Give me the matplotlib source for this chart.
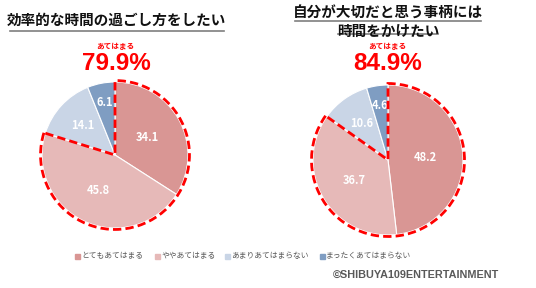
import matplotlib
matplotlib.use("Agg")
import numpy as np
import matplotlib.pyplot as plt
from matplotlib.patches import Wedge, Rectangle
from matplotlib.lines import Line2D

plt.rcParams['font.family'] = ['Noto Sans CJK JP', 'DejaVu Sans']

categories = ["とてもあてはまる", "ややあてはまる", "あまりあてはまらない", "まったくあてはまらない"]
left_values = [34.1, 45.8, 14.1, 6.1]
right_values = [48.2, 36.7, 10.6, 4.6]
left_total = "79.9%"
right_total = "84.9%"
left_title = "効率的な時間の過ごし方をしたい"
right_title = ["自分が大切だと思う事柄には", "時間をかけたい"]
colors = ["#D99694", "#E6B9B8", "#C9D5E6", "#7F9DC2"]
label_dist = [0.5, 0.53, 0.6, 0.73]

W, H = 536, 288
fig = plt.figure(figsize=(W / 100, H / 100), dpi=100)

def px(x, y):
    return x / W, 1 - y / H

def draw_pie(cx, cy, r, values):
    ax = fig.add_axes([(cx - r) / W, 1 - (cy + r) / H, 2 * r / W, 2 * r / H])
    wedges, _ = ax.pie(values, colors=colors, startangle=90, counterclock=False,
                       wedgeprops=dict(edgecolor="white", linewidth=0.8))
    for w, v, d in zip(wedges, values, label_dist):
        ang = np.deg2rad((w.theta1 + w.theta2) / 2)
        ax.text(d * np.cos(ang), d * np.sin(ang), f"{v:.1f}", ha="center", va="center",
                color="white", fontsize=8, fontweight="bold")
    total = sum(values)
    frac = (values[0] + values[1]) / total
    outline = Wedge((0, 0), 1.02, 90 - 360 * frac, 90, fill=False, edgecolor="#FF0000",
                    linestyle=(0, (3, 1.5)), linewidth=2, clip_on=False, zorder=5)
    ax.add_patch(outline)
    ax.set_xlim(-1, 1)
    ax.set_ylim(-1, 1)
    ax.set_aspect("equal")
    ax.axis("off")
    return ax

draw_pie(115, 155, 73, left_values)
draw_pie(388, 160, 75, right_values)

def title_line(text, x, y, x0, x1, uy):
    fig.text(*px(x, y), text, ha="center", va="center", fontsize=10.5, fontweight="bold", color="#111111")
    fig.add_artist(Line2D([x0 / W, x1 / W], [1 - uy / H, 1 - uy / H], color="#7f7f7f", linewidth=1.2))

title_line(left_title, 116, 20, 10, 224, 31)
title_line(right_title[0], 388, 13, 295, 481, 21)
title_line(right_title[1], 388, 31, 338, 438, 34)

for (x, y1, y2, t) in [(115, 46, 64, left_total), (387, 47, 64, right_total)]:
    fig.text(*px(x, y1), "あてはまる", ha="center", va="center", fontsize=5.5, fontweight="bold", color="#FF0000")
    fig.text(*px(x + 1, y2), t, ha="center", va="center", fontsize=17.5, fontweight="bold", color="#FF0000",
             family=["Liberation Sans", "DejaVu Sans"])

leg_x = [77, 157, 227, 322]
for x, c, lab in zip(leg_x, colors, categories):
    fig.add_artist(Rectangle((x / W - 2.5 / W, 1 - 259 / H), 5 / W, 5 / H, color=c, transform=fig.transFigure))
    fig.text((x + 4) / W, 1 - 256 / H, lab, ha="left", va="center", fontsize=5.6, color="#595959")

fig.text(*px(333, 275), "©SHIBUYA109ENTERTAINMENT", ha="left", va="center", fontsize=7.8,
         fontweight="bold", color="#595959", family=["Liberation Sans", "DejaVu Sans"])

fig.savefig("out.png", dpi=100)
